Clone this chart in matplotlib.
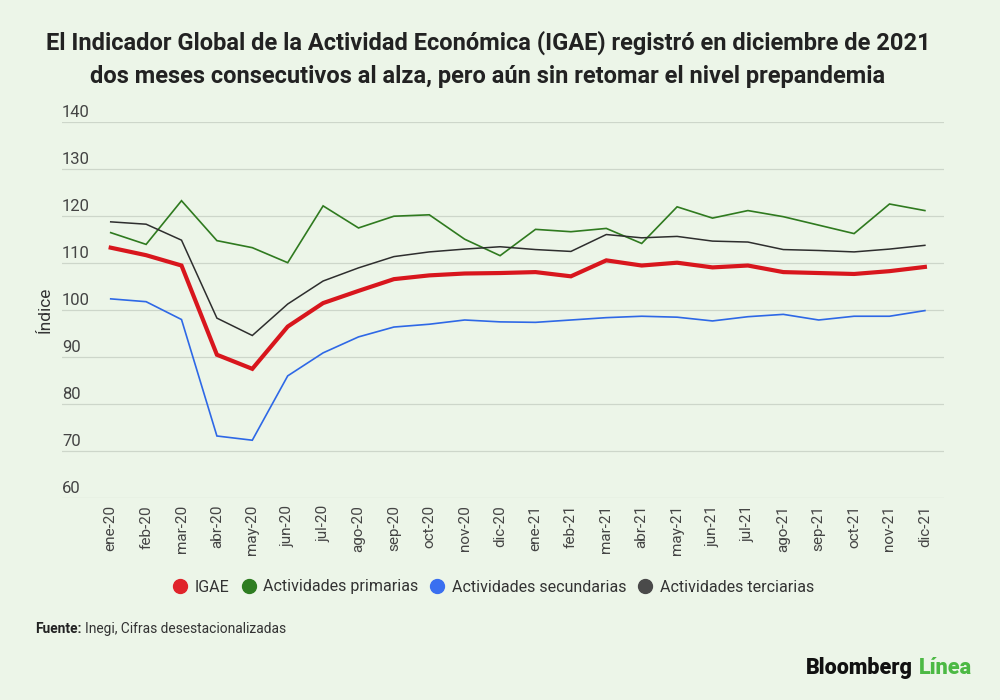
import matplotlib.pyplot as plt
from matplotlib.lines import Line2D

plt.rcParams["font.family"] = ["Roboto", "DejaVu Sans"]

BG = "#ecf5e8"

meses = [
    "ene-20", "feb-20", "mar-20", "abr-20", "may-20", "jun-20", "jul-20", "ago-20",
    "sep-20", "oct-20", "nov-20", "dic-20", "ene-21", "feb-21", "mar-21", "abr-21",
    "may-21", "jun-21", "jul-21", "ago-21", "sep-21", "oct-21", "nov-21", "dic-21",
]
igae = [
    113.3, 111.7, 109.5, 90.5, 87.5, 96.5, 101.5, 104.1, 106.6, 107.4, 107.8, 107.9,
    108.1, 107.2, 110.6, 109.5, 110.1, 109.1, 109.5, 108.1, 107.9, 107.7, 108.3, 109.2,
]
primarias = [
    116.5, 114.0, 123.3, 114.8, 113.3, 110.1, 122.2, 117.5, 120.0, 120.3, 115.1, 111.6,
    117.2, 116.7, 117.4, 114.2, 122.0, 119.6, 121.2, 119.9, 118.1, 116.3, 122.6, 121.2,
]
secundarias = [
    102.4, 101.8, 98.0, 73.2, 72.3, 86.0, 90.9, 94.3, 96.4, 97.0, 97.9, 97.5,
    97.4, 97.9, 98.4, 98.7, 98.5, 97.7, 98.6, 99.1, 97.9, 98.7, 98.7, 99.9,
]
terciarias = [
    118.8, 118.3, 114.9, 98.3, 94.6, 101.3, 106.2, 109.0, 111.4, 112.4, 113.0, 113.5,
    112.9, 112.5, 116.1, 115.4, 115.7, 114.7, 114.5, 112.9, 112.7, 112.4, 113.0, 113.8,
]
y_ticks = [60, 70, 80, 90, 100, 110, 120, 130, 140]

series = [
    ("IGAE", igae, "#d8161d", 3.0, "#e0232a"),
    ("Actividades primarias", primarias, "#2f7a1f", 1.2, "#2e7d21"),
    ("Actividades secundarias", secundarias, "#2e68e6", 1.2, "#3a6ff0"),
    ("Actividades terciarias", terciarias, "#2e2e2e", 1.1, "#4a4a4a"),
]

fig = plt.figure(figsize=(10, 7), dpi=100)
fig.patch.set_facecolor(BG)
ax = fig.add_axes([0.062, 0.2886, 0.882, 0.5367])
ax.set_facecolor(BG)

x = list(range(len(meses)))
# thin lines first, IGAE on top
for name, vals, col, lw, _ in series[1:] + series[:1]:
    ax.plot(x, vals, color=col, lw=lw, solid_joinstyle="miter", zorder=3)

ax.set_xlim(-1.376, 23.54)
ax.set_ylim(60, 140)
for v in y_ticks:
    ax.axhline(v, color="#cdd6ca", lw=0.9, zorder=1)
    ax.text(-1.376, v + 0.5, str(v), fontsize=12, color="#444444", ha="left", va="bottom")
ax.set_yticks([])
for s in ax.spines.values():
    s.set_visible(False)

ax.set_xticks(x)
ax.set_xticklabels(meses, rotation=90, fontsize=11, color="#444444")
ax.tick_params(axis="x", length=0, pad=5)

fig.text(0.045, 1 - 310 / 700, "Índice", rotation=90, fontsize=12.5, color="#333333",
         ha="center", va="center")

fig.text(0.488, 1 - 43 / 700,
         "El Indicador Global de la Actividad Económica (IGAE) registró en diciembre de 2021",
         fontsize=17, fontweight="bold", color="#222222", ha="center", va="center")
fig.text(0.488, 1 - 76 / 700,
         "dos meses consecutivos al alza, pero aún sin retomar el nivel prepandemia",
         fontsize=17, fontweight="bold", color="#222222", ha="center", va="center")

handles = [Line2D([], [], marker="o", ls="none", ms=10, markerfacecolor=mc,
                  markeredgecolor=mc, label=name) for name, _, _, _, mc in series]
fig.legend(handles=handles, loc="center", bbox_to_anchor=(0.494, 1 - 587 / 700), ncol=4,
           frameon=False, fontsize=11.5, handlelength=0.8, handletextpad=0.5,
           columnspacing=0.8, labelcolor="#333333")

fig.text(0.035, 1 - 629 / 700, "Fuente:", fontsize=9.9, fontweight="bold", color="#222222",
         ha="left", va="center")
fig.text(0.085, 1 - 629 / 700, "Inegi, Cifras desestacionalizadas", fontsize=9.9,
         color="#333333", ha="left", va="center")

fig.text(0.913, 1 - 668 / 700, "Bloomberg", fontsize=15.5, fontweight="heavy", color="#111111",
         ha="right", va="center")
fig.text(0.919, 1 - 668 / 700, "Línea", fontsize=15.5, fontweight="heavy", color="#4cb944",
         ha="left", va="center")

fig.savefig("out.png", dpi=100, facecolor=BG)
